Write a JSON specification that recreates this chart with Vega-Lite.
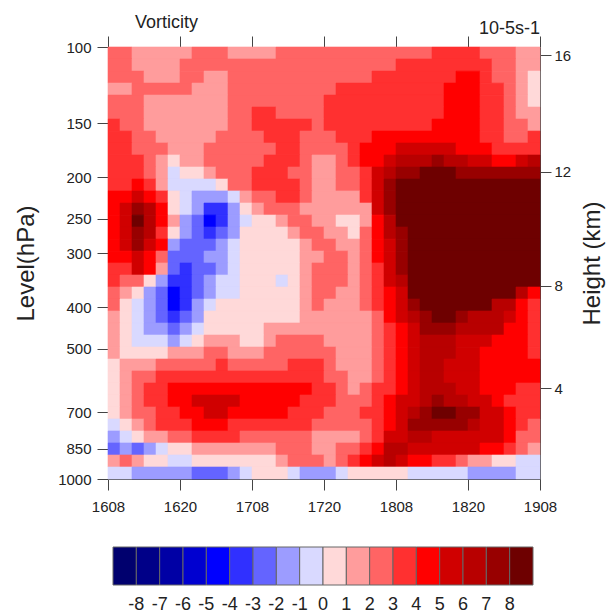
{"$schema":"https://vega.github.io/schema/vega-lite/v6.json","width":432,"height":432,"autosize":{"type":"none"},"padding":{"left":108,"top":47,"right":74,"bottom":134},"background":"white","config":{"view":{"stroke":"#444","strokeWidth":1},"font":"Liberation Sans"},"resolve":{"axis":{"x":"independent","y":"independent"}},"layer":[{"data":{"values":[
{"t0":0,"t1":4,"p0":100,"p1":106.6,"v":2.5},{"t0":4,"t1":14,"p0":100,"p1":106.6,"v":1.5},{"t0":14,"t1":20,"p0":100,"p1":106.6,"v":2.5},{"t0":20,"t1":28,"p0":100,"p1":106.6,"v":1.5},{"t0":28,"t1":54,"p0":100,"p1":106.6,"v":2.5},{"t0":54,"t1":62,"p0":100,"p1":106.6,"v":3.5},{"t0":62,"t1":68,"p0":100,"p1":106.6,"v":2.5},{"t0":68,"t1":72,"p0":100,"p1":106.6,"v":1.5},
{"t0":0,"t1":4,"p0":106.6,"p1":113.7,"v":2.5},{"t0":4,"t1":12,"p0":106.6,"p1":113.7,"v":1.5},{"t0":12,"t1":48,"p0":106.6,"p1":113.7,"v":2.5},{"t0":48,"t1":64,"p0":106.6,"p1":113.7,"v":3.5},{"t0":64,"t1":68,"p0":106.6,"p1":113.7,"v":2.5},{"t0":68,"t1":72,"p0":106.6,"p1":113.7,"v":1.5},
{"t0":0,"t1":6,"p0":113.7,"p1":121.2,"v":2.5},{"t0":6,"t1":12,"p0":113.7,"p1":121.2,"v":1.5},{"t0":12,"t1":16,"p0":113.7,"p1":121.2,"v":2.5},{"t0":16,"t1":20,"p0":113.7,"p1":121.2,"v":1.5},{"t0":20,"t1":44,"p0":113.7,"p1":121.2,"v":2.5},{"t0":44,"t1":58,"p0":113.7,"p1":121.2,"v":3.5},{"t0":58,"t1":62,"p0":113.7,"p1":121.2,"v":4.5},{"t0":62,"t1":64,"p0":113.7,"p1":121.2,"v":3.5},{"t0":64,"t1":68,"p0":113.7,"p1":121.2,"v":2.5},{"t0":68,"t1":70,"p0":113.7,"p1":121.2,"v":1.5},{"t0":70,"t1":72,"p0":113.7,"p1":121.2,"v":0.5},
{"t0":0,"t1":4,"p0":121.2,"p1":129.2,"v":1.5},{"t0":4,"t1":14,"p0":121.2,"p1":129.2,"v":2.5},{"t0":14,"t1":20,"p0":121.2,"p1":129.2,"v":1.5},{"t0":20,"t1":38,"p0":121.2,"p1":129.2,"v":2.5},{"t0":38,"t1":56,"p0":121.2,"p1":129.2,"v":3.5},{"t0":56,"t1":62,"p0":121.2,"p1":129.2,"v":4.5},{"t0":62,"t1":66,"p0":121.2,"p1":129.2,"v":3.5},{"t0":66,"t1":68,"p0":121.2,"p1":129.2,"v":2.5},{"t0":68,"t1":70,"p0":121.2,"p1":129.2,"v":1.5},{"t0":70,"t1":72,"p0":121.2,"p1":129.2,"v":0.5},
{"t0":0,"t1":6,"p0":129.2,"p1":137.7,"v":2.5},{"t0":6,"t1":20,"p0":129.2,"p1":137.7,"v":1.5},{"t0":20,"t1":36,"p0":129.2,"p1":137.7,"v":2.5},{"t0":36,"t1":56,"p0":129.2,"p1":137.7,"v":3.5},{"t0":56,"t1":62,"p0":129.2,"p1":137.7,"v":4.5},{"t0":62,"t1":66,"p0":129.2,"p1":137.7,"v":3.5},{"t0":66,"t1":68,"p0":129.2,"p1":137.7,"v":2.5},{"t0":68,"t1":70,"p0":129.2,"p1":137.7,"v":1.5},{"t0":70,"t1":72,"p0":129.2,"p1":137.7,"v":0.5},
{"t0":0,"t1":6,"p0":137.7,"p1":146.8,"v":2.5},{"t0":6,"t1":20,"p0":137.7,"p1":146.8,"v":1.5},{"t0":20,"t1":24,"p0":137.7,"p1":146.8,"v":2.5},{"t0":24,"t1":28,"p0":137.7,"p1":146.8,"v":3.5},{"t0":28,"t1":36,"p0":137.7,"p1":146.8,"v":2.5},{"t0":36,"t1":56,"p0":137.7,"p1":146.8,"v":3.5},{"t0":56,"t1":62,"p0":137.7,"p1":146.8,"v":4.5},{"t0":62,"t1":66,"p0":137.7,"p1":146.8,"v":3.5},{"t0":66,"t1":68,"p0":137.7,"p1":146.8,"v":2.5},{"t0":68,"t1":72,"p0":137.7,"p1":146.8,"v":1.5},
{"t0":0,"t1":2,"p0":146.8,"p1":156.5,"v":3.5},{"t0":2,"t1":6,"p0":146.8,"p1":156.5,"v":2.5},{"t0":6,"t1":20,"p0":146.8,"p1":156.5,"v":1.5},{"t0":20,"t1":24,"p0":146.8,"p1":156.5,"v":2.5},{"t0":24,"t1":34,"p0":146.8,"p1":156.5,"v":3.5},{"t0":34,"t1":36,"p0":146.8,"p1":156.5,"v":2.5},{"t0":36,"t1":54,"p0":146.8,"p1":156.5,"v":3.5},{"t0":54,"t1":62,"p0":146.8,"p1":156.5,"v":4.5},{"t0":62,"t1":66,"p0":146.8,"p1":156.5,"v":3.5},{"t0":66,"t1":70,"p0":146.8,"p1":156.5,"v":2.5},{"t0":70,"t1":72,"p0":146.8,"p1":156.5,"v":1.5},
{"t0":0,"t1":4,"p0":156.5,"p1":166.8,"v":3.5},{"t0":4,"t1":8,"p0":156.5,"p1":166.8,"v":2.5},{"t0":8,"t1":18,"p0":156.5,"p1":166.8,"v":1.5},{"t0":18,"t1":26,"p0":156.5,"p1":166.8,"v":2.5},{"t0":26,"t1":32,"p0":156.5,"p1":166.8,"v":3.5},{"t0":32,"t1":38,"p0":156.5,"p1":166.8,"v":2.5},{"t0":38,"t1":44,"p0":156.5,"p1":166.8,"v":3.5},{"t0":44,"t1":62,"p0":156.5,"p1":166.8,"v":4.5},{"t0":62,"t1":66,"p0":156.5,"p1":166.8,"v":3.5},{"t0":66,"t1":70,"p0":156.5,"p1":166.8,"v":2.5},{"t0":70,"t1":72,"p0":156.5,"p1":166.8,"v":3.5},
{"t0":0,"t1":4,"p0":166.8,"p1":177.8,"v":3.5},{"t0":4,"t1":10,"p0":166.8,"p1":177.8,"v":2.5},{"t0":10,"t1":16,"p0":166.8,"p1":177.8,"v":1.5},{"t0":16,"t1":28,"p0":166.8,"p1":177.8,"v":2.5},{"t0":28,"t1":32,"p0":166.8,"p1":177.8,"v":3.5},{"t0":32,"t1":40,"p0":166.8,"p1":177.8,"v":2.5},{"t0":40,"t1":42,"p0":166.8,"p1":177.8,"v":3.5},{"t0":42,"t1":48,"p0":166.8,"p1":177.8,"v":4.5},{"t0":48,"t1":58,"p0":166.8,"p1":177.8,"v":5.5},{"t0":58,"t1":64,"p0":166.8,"p1":177.8,"v":4.5},{"t0":64,"t1":72,"p0":166.8,"p1":177.8,"v":3.5},
{"t0":0,"t1":6,"p0":177.8,"p1":189.6,"v":3.5},{"t0":6,"t1":8,"p0":177.8,"p1":189.6,"v":2.5},{"t0":8,"t1":10,"p0":177.8,"p1":189.6,"v":1.5},{"t0":10,"t1":12,"p0":177.8,"p1":189.6,"v":0.5},{"t0":12,"t1":16,"p0":177.8,"p1":189.6,"v":1.5},{"t0":16,"t1":26,"p0":177.8,"p1":189.6,"v":2.5},{"t0":26,"t1":32,"p0":177.8,"p1":189.6,"v":3.5},{"t0":32,"t1":34,"p0":177.8,"p1":189.6,"v":2.5},{"t0":34,"t1":38,"p0":177.8,"p1":189.6,"v":1.5},{"t0":38,"t1":40,"p0":177.8,"p1":189.6,"v":2.5},{"t0":40,"t1":42,"p0":177.8,"p1":189.6,"v":3.5},{"t0":42,"t1":46,"p0":177.8,"p1":189.6,"v":4.5},{"t0":46,"t1":48,"p0":177.8,"p1":189.6,"v":5.5},{"t0":48,"t1":54,"p0":177.8,"p1":189.6,"v":6.5},{"t0":54,"t1":56,"p0":177.8,"p1":189.6,"v":7.5},{"t0":56,"t1":60,"p0":177.8,"p1":189.6,"v":6.5},{"t0":60,"t1":64,"p0":177.8,"p1":189.6,"v":5.5},{"t0":64,"t1":68,"p0":177.8,"p1":189.6,"v":4.5},{"t0":68,"t1":70,"p0":177.8,"p1":189.6,"v":5.5},{"t0":70,"t1":72,"p0":177.8,"p1":189.6,"v":6.5},
{"t0":0,"t1":6,"p0":189.6,"p1":202.1,"v":3.5},{"t0":6,"t1":8,"p0":189.6,"p1":202.1,"v":2.5},{"t0":8,"t1":10,"p0":189.6,"p1":202.1,"v":1.5},{"t0":10,"t1":12,"p0":189.6,"p1":202.1,"v":-0.5},{"t0":12,"t1":16,"p0":189.6,"p1":202.1,"v":0.5},{"t0":16,"t1":18,"p0":189.6,"p1":202.1,"v":1.5},{"t0":18,"t1":24,"p0":189.6,"p1":202.1,"v":2.5},{"t0":24,"t1":30,"p0":189.6,"p1":202.1,"v":3.5},{"t0":30,"t1":34,"p0":189.6,"p1":202.1,"v":2.5},{"t0":34,"t1":38,"p0":189.6,"p1":202.1,"v":1.5},{"t0":38,"t1":42,"p0":189.6,"p1":202.1,"v":2.5},{"t0":42,"t1":44,"p0":189.6,"p1":202.1,"v":3.5},{"t0":44,"t1":46,"p0":189.6,"p1":202.1,"v":5.5},{"t0":46,"t1":48,"p0":189.6,"p1":202.1,"v":6.5},{"t0":48,"t1":52,"p0":189.6,"p1":202.1,"v":7.5},{"t0":52,"t1":58,"p0":189.6,"p1":202.1,"v":8.5},{"t0":58,"t1":72,"p0":189.6,"p1":202.1,"v":7.5},
{"t0":0,"t1":4,"p0":202.1,"p1":215.4,"v":3.5},{"t0":4,"t1":6,"p0":202.1,"p1":215.4,"v":4.5},{"t0":6,"t1":8,"p0":202.1,"p1":215.4,"v":3.5},{"t0":8,"t1":10,"p0":202.1,"p1":215.4,"v":1.5},{"t0":10,"t1":18,"p0":202.1,"p1":215.4,"v":-0.5},{"t0":18,"t1":20,"p0":202.1,"p1":215.4,"v":0.5},{"t0":20,"t1":24,"p0":202.1,"p1":215.4,"v":2.5},{"t0":24,"t1":32,"p0":202.1,"p1":215.4,"v":3.5},{"t0":32,"t1":34,"p0":202.1,"p1":215.4,"v":2.5},{"t0":34,"t1":38,"p0":202.1,"p1":215.4,"v":1.5},{"t0":38,"t1":42,"p0":202.1,"p1":215.4,"v":2.5},{"t0":42,"t1":44,"p0":202.1,"p1":215.4,"v":3.5},{"t0":44,"t1":46,"p0":202.1,"p1":215.4,"v":5.5},{"t0":46,"t1":48,"p0":202.1,"p1":215.4,"v":7.5},{"t0":48,"t1":72,"p0":202.1,"p1":215.4,"v":8.5},
{"t0":0,"t1":4,"p0":215.4,"p1":229.7,"v":4.5},{"t0":4,"t1":6,"p0":215.4,"p1":229.7,"v":5.5},{"t0":6,"t1":8,"p0":215.4,"p1":229.7,"v":4.5},{"t0":8,"t1":10,"p0":215.4,"p1":229.7,"v":3.5},{"t0":10,"t1":12,"p0":215.4,"p1":229.7,"v":0.5},{"t0":12,"t1":14,"p0":215.4,"p1":229.7,"v":-0.5},{"t0":14,"t1":20,"p0":215.4,"p1":229.7,"v":-1.5},{"t0":20,"t1":22,"p0":215.4,"p1":229.7,"v":-0.5},{"t0":22,"t1":24,"p0":215.4,"p1":229.7,"v":1.5},{"t0":24,"t1":28,"p0":215.4,"p1":229.7,"v":2.5},{"t0":28,"t1":32,"p0":215.4,"p1":229.7,"v":3.5},{"t0":32,"t1":34,"p0":215.4,"p1":229.7,"v":2.5},{"t0":34,"t1":42,"p0":215.4,"p1":229.7,"v":1.5},{"t0":42,"t1":44,"p0":215.4,"p1":229.7,"v":3.5},{"t0":44,"t1":46,"p0":215.4,"p1":229.7,"v":5.5},{"t0":46,"t1":48,"p0":215.4,"p1":229.7,"v":7.5},{"t0":48,"t1":72,"p0":215.4,"p1":229.7,"v":8.5},
{"t0":0,"t1":2,"p0":229.7,"p1":244.9,"v":4.5},{"t0":2,"t1":4,"p0":229.7,"p1":244.9,"v":5.5},{"t0":4,"t1":6,"p0":229.7,"p1":244.9,"v":7.5},{"t0":6,"t1":8,"p0":229.7,"p1":244.9,"v":6.5},{"t0":8,"t1":10,"p0":229.7,"p1":244.9,"v":4.5},{"t0":10,"t1":12,"p0":229.7,"p1":244.9,"v":0.5},{"t0":12,"t1":14,"p0":229.7,"p1":244.9,"v":-0.5},{"t0":14,"t1":16,"p0":229.7,"p1":244.9,"v":-1.5},{"t0":16,"t1":20,"p0":229.7,"p1":244.9,"v":-3.5},{"t0":20,"t1":22,"p0":229.7,"p1":244.9,"v":-1.5},{"t0":22,"t1":24,"p0":229.7,"p1":244.9,"v":0.5},{"t0":24,"t1":26,"p0":229.7,"p1":244.9,"v":1.5},{"t0":26,"t1":32,"p0":229.7,"p1":244.9,"v":2.5},{"t0":32,"t1":44,"p0":229.7,"p1":244.9,"v":1.5},{"t0":44,"t1":46,"p0":229.7,"p1":244.9,"v":5.5},{"t0":46,"t1":48,"p0":229.7,"p1":244.9,"v":7.5},{"t0":48,"t1":72,"p0":229.7,"p1":244.9,"v":8.5},
{"t0":0,"t1":2,"p0":244.9,"p1":261,"v":4.5},{"t0":2,"t1":4,"p0":244.9,"p1":261,"v":5.5},{"t0":4,"t1":6,"p0":244.9,"p1":261,"v":8.5},{"t0":6,"t1":8,"p0":244.9,"p1":261,"v":6.5},{"t0":8,"t1":10,"p0":244.9,"p1":261,"v":4.5},{"t0":10,"t1":12,"p0":244.9,"p1":261,"v":1.5},{"t0":12,"t1":14,"p0":244.9,"p1":261,"v":-1.5},{"t0":14,"t1":16,"p0":244.9,"p1":261,"v":-2.5},{"t0":16,"t1":18,"p0":244.9,"p1":261,"v":-4.5},{"t0":18,"t1":20,"p0":244.9,"p1":261,"v":-3.5},{"t0":20,"t1":22,"p0":244.9,"p1":261,"v":-1.5},{"t0":22,"t1":24,"p0":244.9,"p1":261,"v":-0.5},{"t0":24,"t1":28,"p0":244.9,"p1":261,"v":0.5},{"t0":28,"t1":30,"p0":244.9,"p1":261,"v":1.5},{"t0":30,"t1":34,"p0":244.9,"p1":261,"v":2.5},{"t0":34,"t1":38,"p0":244.9,"p1":261,"v":1.5},{"t0":38,"t1":42,"p0":244.9,"p1":261,"v":0.5},{"t0":42,"t1":44,"p0":244.9,"p1":261,"v":1.5},{"t0":44,"t1":46,"p0":244.9,"p1":261,"v":4.5},{"t0":46,"t1":48,"p0":244.9,"p1":261,"v":6.5},{"t0":48,"t1":72,"p0":244.9,"p1":261,"v":8.5},
{"t0":0,"t1":2,"p0":261,"p1":278.3,"v":4.5},{"t0":2,"t1":4,"p0":261,"p1":278.3,"v":5.5},{"t0":4,"t1":6,"p0":261,"p1":278.3,"v":7.5},{"t0":6,"t1":8,"p0":261,"p1":278.3,"v":6.5},{"t0":8,"t1":10,"p0":261,"p1":278.3,"v":3.5},{"t0":10,"t1":12,"p0":261,"p1":278.3,"v":0.5},{"t0":12,"t1":14,"p0":261,"p1":278.3,"v":-1.5},{"t0":14,"t1":16,"p0":261,"p1":278.3,"v":-2.5},{"t0":16,"t1":18,"p0":261,"p1":278.3,"v":-3.5},{"t0":18,"t1":20,"p0":261,"p1":278.3,"v":-2.5},{"t0":20,"t1":22,"p0":261,"p1":278.3,"v":-1.5},{"t0":22,"t1":30,"p0":261,"p1":278.3,"v":0.5},{"t0":30,"t1":32,"p0":261,"p1":278.3,"v":1.5},{"t0":32,"t1":36,"p0":261,"p1":278.3,"v":2.5},{"t0":36,"t1":40,"p0":261,"p1":278.3,"v":1.5},{"t0":40,"t1":42,"p0":261,"p1":278.3,"v":0.5},{"t0":42,"t1":44,"p0":261,"p1":278.3,"v":2.5},{"t0":44,"t1":46,"p0":261,"p1":278.3,"v":4.5},{"t0":46,"t1":48,"p0":261,"p1":278.3,"v":6.5},{"t0":48,"t1":50,"p0":261,"p1":278.3,"v":7.5},{"t0":50,"t1":72,"p0":261,"p1":278.3,"v":8.5},
{"t0":0,"t1":2,"p0":278.3,"p1":296.7,"v":4.5},{"t0":2,"t1":4,"p0":278.3,"p1":296.7,"v":5.5},{"t0":4,"t1":6,"p0":278.3,"p1":296.7,"v":7.5},{"t0":6,"t1":8,"p0":278.3,"p1":296.7,"v":5.5},{"t0":8,"t1":10,"p0":278.3,"p1":296.7,"v":4.5},{"t0":10,"t1":12,"p0":278.3,"p1":296.7,"v":-1.5},{"t0":12,"t1":18,"p0":278.3,"p1":296.7,"v":-2.5},{"t0":18,"t1":20,"p0":278.3,"p1":296.7,"v":-1.5},{"t0":20,"t1":22,"p0":278.3,"p1":296.7,"v":-0.5},{"t0":22,"t1":32,"p0":278.3,"p1":296.7,"v":0.5},{"t0":32,"t1":34,"p0":278.3,"p1":296.7,"v":1.5},{"t0":34,"t1":38,"p0":278.3,"p1":296.7,"v":2.5},{"t0":38,"t1":42,"p0":278.3,"p1":296.7,"v":1.5},{"t0":42,"t1":44,"p0":278.3,"p1":296.7,"v":2.5},{"t0":44,"t1":46,"p0":278.3,"p1":296.7,"v":4.5},{"t0":46,"t1":48,"p0":278.3,"p1":296.7,"v":5.5},{"t0":48,"t1":50,"p0":278.3,"p1":296.7,"v":7.5},{"t0":50,"t1":72,"p0":278.3,"p1":296.7,"v":8.5},
{"t0":0,"t1":4,"p0":296.7,"p1":316.2,"v":4.5},{"t0":4,"t1":6,"p0":296.7,"p1":316.2,"v":5.5},{"t0":6,"t1":8,"p0":296.7,"p1":316.2,"v":4.5},{"t0":8,"t1":10,"p0":296.7,"p1":316.2,"v":2.5},{"t0":10,"t1":16,"p0":296.7,"p1":316.2,"v":-2.5},{"t0":16,"t1":20,"p0":296.7,"p1":316.2,"v":-1.5},{"t0":20,"t1":22,"p0":296.7,"p1":316.2,"v":-0.5},{"t0":22,"t1":32,"p0":296.7,"p1":316.2,"v":0.5},{"t0":32,"t1":36,"p0":296.7,"p1":316.2,"v":1.5},{"t0":36,"t1":40,"p0":296.7,"p1":316.2,"v":2.5},{"t0":40,"t1":42,"p0":296.7,"p1":316.2,"v":1.5},{"t0":42,"t1":44,"p0":296.7,"p1":316.2,"v":2.5},{"t0":44,"t1":46,"p0":296.7,"p1":316.2,"v":4.5},{"t0":46,"t1":48,"p0":296.7,"p1":316.2,"v":5.5},{"t0":48,"t1":50,"p0":296.7,"p1":316.2,"v":7.5},{"t0":50,"t1":72,"p0":296.7,"p1":316.2,"v":8.5},
{"t0":0,"t1":4,"p0":316.2,"p1":337.1,"v":3.5},{"t0":4,"t1":6,"p0":316.2,"p1":337.1,"v":5.5},{"t0":6,"t1":8,"p0":316.2,"p1":337.1,"v":4.5},{"t0":8,"t1":10,"p0":316.2,"p1":337.1,"v":1.5},{"t0":10,"t1":12,"p0":316.2,"p1":337.1,"v":-2.5},{"t0":12,"t1":14,"p0":316.2,"p1":337.1,"v":-3.5},{"t0":14,"t1":18,"p0":316.2,"p1":337.1,"v":-2.5},{"t0":18,"t1":20,"p0":316.2,"p1":337.1,"v":-1.5},{"t0":20,"t1":22,"p0":316.2,"p1":337.1,"v":-0.5},{"t0":22,"t1":32,"p0":316.2,"p1":337.1,"v":0.5},{"t0":32,"t1":34,"p0":316.2,"p1":337.1,"v":1.5},{"t0":34,"t1":40,"p0":316.2,"p1":337.1,"v":2.5},{"t0":40,"t1":42,"p0":316.2,"p1":337.1,"v":1.5},{"t0":42,"t1":44,"p0":316.2,"p1":337.1,"v":2.5},{"t0":44,"t1":46,"p0":316.2,"p1":337.1,"v":3.5},{"t0":46,"t1":48,"p0":316.2,"p1":337.1,"v":5.5},{"t0":48,"t1":50,"p0":316.2,"p1":337.1,"v":7.5},{"t0":50,"t1":72,"p0":316.2,"p1":337.1,"v":8.5},
{"t0":0,"t1":2,"p0":337.1,"p1":359.4,"v":3.5},{"t0":2,"t1":6,"p0":337.1,"p1":359.4,"v":2.5},{"t0":6,"t1":8,"p0":337.1,"p1":359.4,"v":0.5},{"t0":8,"t1":10,"p0":337.1,"p1":359.4,"v":-1.5},{"t0":10,"t1":14,"p0":337.1,"p1":359.4,"v":-3.5},{"t0":14,"t1":16,"p0":337.1,"p1":359.4,"v":-2.5},{"t0":16,"t1":18,"p0":337.1,"p1":359.4,"v":-1.5},{"t0":18,"t1":22,"p0":337.1,"p1":359.4,"v":-0.5},{"t0":22,"t1":28,"p0":337.1,"p1":359.4,"v":0.5},{"t0":28,"t1":30,"p0":337.1,"p1":359.4,"v":-0.5},{"t0":30,"t1":32,"p0":337.1,"p1":359.4,"v":0.5},{"t0":32,"t1":34,"p0":337.1,"p1":359.4,"v":1.5},{"t0":34,"t1":40,"p0":337.1,"p1":359.4,"v":2.5},{"t0":40,"t1":42,"p0":337.1,"p1":359.4,"v":1.5},{"t0":42,"t1":44,"p0":337.1,"p1":359.4,"v":2.5},{"t0":44,"t1":46,"p0":337.1,"p1":359.4,"v":3.5},{"t0":46,"t1":48,"p0":337.1,"p1":359.4,"v":5.5},{"t0":48,"t1":50,"p0":337.1,"p1":359.4,"v":6.5},{"t0":50,"t1":72,"p0":337.1,"p1":359.4,"v":8.5},
{"t0":0,"t1":2,"p0":359.4,"p1":383.1,"v":2.5},{"t0":2,"t1":4,"p0":359.4,"p1":383.1,"v":1.5},{"t0":4,"t1":6,"p0":359.4,"p1":383.1,"v":0.5},{"t0":6,"t1":8,"p0":359.4,"p1":383.1,"v":-1.5},{"t0":8,"t1":10,"p0":359.4,"p1":383.1,"v":-2.5},{"t0":10,"t1":12,"p0":359.4,"p1":383.1,"v":-4.5},{"t0":12,"t1":14,"p0":359.4,"p1":383.1,"v":-3.5},{"t0":14,"t1":16,"p0":359.4,"p1":383.1,"v":-2.5},{"t0":16,"t1":18,"p0":359.4,"p1":383.1,"v":-1.5},{"t0":18,"t1":22,"p0":359.4,"p1":383.1,"v":-0.5},{"t0":22,"t1":32,"p0":359.4,"p1":383.1,"v":0.5},{"t0":32,"t1":34,"p0":359.4,"p1":383.1,"v":1.5},{"t0":34,"t1":38,"p0":359.4,"p1":383.1,"v":2.5},{"t0":38,"t1":42,"p0":359.4,"p1":383.1,"v":1.5},{"t0":42,"t1":44,"p0":359.4,"p1":383.1,"v":2.5},{"t0":44,"t1":46,"p0":359.4,"p1":383.1,"v":3.5},{"t0":46,"t1":48,"p0":359.4,"p1":383.1,"v":4.5},{"t0":48,"t1":50,"p0":359.4,"p1":383.1,"v":5.5},{"t0":50,"t1":68,"p0":359.4,"p1":383.1,"v":8.5},{"t0":68,"t1":70,"p0":359.4,"p1":383.1,"v":6.5},{"t0":70,"t1":72,"p0":359.4,"p1":383.1,"v":4.5},
{"t0":0,"t1":2,"p0":383.1,"p1":408.4,"v":2.5},{"t0":2,"t1":4,"p0":383.1,"p1":408.4,"v":0.5},{"t0":4,"t1":6,"p0":383.1,"p1":408.4,"v":-0.5},{"t0":6,"t1":8,"p0":383.1,"p1":408.4,"v":-1.5},{"t0":8,"t1":10,"p0":383.1,"p1":408.4,"v":-2.5},{"t0":10,"t1":12,"p0":383.1,"p1":408.4,"v":-4.5},{"t0":12,"t1":14,"p0":383.1,"p1":408.4,"v":-3.5},{"t0":14,"t1":16,"p0":383.1,"p1":408.4,"v":-1.5},{"t0":16,"t1":18,"p0":383.1,"p1":408.4,"v":-0.5},{"t0":18,"t1":32,"p0":383.1,"p1":408.4,"v":0.5},{"t0":32,"t1":34,"p0":383.1,"p1":408.4,"v":1.5},{"t0":34,"t1":36,"p0":383.1,"p1":408.4,"v":2.5},{"t0":36,"t1":42,"p0":383.1,"p1":408.4,"v":1.5},{"t0":42,"t1":44,"p0":383.1,"p1":408.4,"v":2.5},{"t0":44,"t1":46,"p0":383.1,"p1":408.4,"v":3.5},{"t0":46,"t1":48,"p0":383.1,"p1":408.4,"v":4.5},{"t0":48,"t1":50,"p0":383.1,"p1":408.4,"v":5.5},{"t0":50,"t1":52,"p0":383.1,"p1":408.4,"v":7.5},{"t0":52,"t1":64,"p0":383.1,"p1":408.4,"v":8.5},{"t0":64,"t1":68,"p0":383.1,"p1":408.4,"v":6.5},{"t0":68,"t1":70,"p0":383.1,"p1":408.4,"v":4.5},{"t0":70,"t1":72,"p0":383.1,"p1":408.4,"v":3.5},
{"t0":0,"t1":2,"p0":408.4,"p1":435.4,"v":1.5},{"t0":2,"t1":4,"p0":408.4,"p1":435.4,"v":0.5},{"t0":4,"t1":6,"p0":408.4,"p1":435.4,"v":-0.5},{"t0":6,"t1":8,"p0":408.4,"p1":435.4,"v":-1.5},{"t0":8,"t1":10,"p0":408.4,"p1":435.4,"v":-2.5},{"t0":10,"t1":12,"p0":408.4,"p1":435.4,"v":-3.5},{"t0":12,"t1":14,"p0":408.4,"p1":435.4,"v":-2.5},{"t0":14,"t1":16,"p0":408.4,"p1":435.4,"v":-1.5},{"t0":16,"t1":32,"p0":408.4,"p1":435.4,"v":0.5},{"t0":32,"t1":44,"p0":408.4,"p1":435.4,"v":1.5},{"t0":44,"t1":46,"p0":408.4,"p1":435.4,"v":2.5},{"t0":46,"t1":48,"p0":408.4,"p1":435.4,"v":4.5},{"t0":48,"t1":50,"p0":408.4,"p1":435.4,"v":5.5},{"t0":50,"t1":52,"p0":408.4,"p1":435.4,"v":6.5},{"t0":52,"t1":54,"p0":408.4,"p1":435.4,"v":7.5},{"t0":54,"t1":58,"p0":408.4,"p1":435.4,"v":8.5},{"t0":58,"t1":60,"p0":408.4,"p1":435.4,"v":7.5},{"t0":60,"t1":66,"p0":408.4,"p1":435.4,"v":6.5},{"t0":66,"t1":68,"p0":408.4,"p1":435.4,"v":5.5},{"t0":68,"t1":70,"p0":408.4,"p1":435.4,"v":4.5},{"t0":70,"t1":72,"p0":408.4,"p1":435.4,"v":3.5},
{"t0":0,"t1":2,"p0":435.4,"p1":464.2,"v":1.5},{"t0":2,"t1":4,"p0":435.4,"p1":464.2,"v":0.5},{"t0":4,"t1":6,"p0":435.4,"p1":464.2,"v":-0.5},{"t0":6,"t1":10,"p0":435.4,"p1":464.2,"v":-1.5},{"t0":10,"t1":12,"p0":435.4,"p1":464.2,"v":-2.5},{"t0":12,"t1":14,"p0":435.4,"p1":464.2,"v":-1.5},{"t0":14,"t1":16,"p0":435.4,"p1":464.2,"v":-0.5},{"t0":16,"t1":26,"p0":435.4,"p1":464.2,"v":0.5},{"t0":26,"t1":44,"p0":435.4,"p1":464.2,"v":1.5},{"t0":44,"t1":46,"p0":435.4,"p1":464.2,"v":2.5},{"t0":46,"t1":48,"p0":435.4,"p1":464.2,"v":3.5},{"t0":48,"t1":50,"p0":435.4,"p1":464.2,"v":4.5},{"t0":50,"t1":52,"p0":435.4,"p1":464.2,"v":5.5},{"t0":52,"t1":58,"p0":435.4,"p1":464.2,"v":7.5},{"t0":58,"t1":66,"p0":435.4,"p1":464.2,"v":6.5},{"t0":66,"t1":70,"p0":435.4,"p1":464.2,"v":4.5},{"t0":70,"t1":72,"p0":435.4,"p1":464.2,"v":3.5},
{"t0":0,"t1":2,"p0":464.2,"p1":494.9,"v":1.5},{"t0":2,"t1":4,"p0":464.2,"p1":494.9,"v":0.5},{"t0":4,"t1":10,"p0":464.2,"p1":494.9,"v":-0.5},{"t0":10,"t1":12,"p0":464.2,"p1":494.9,"v":-1.5},{"t0":12,"t1":14,"p0":464.2,"p1":494.9,"v":-0.5},{"t0":14,"t1":16,"p0":464.2,"p1":494.9,"v":0.5},{"t0":16,"t1":22,"p0":464.2,"p1":494.9,"v":1.5},{"t0":22,"t1":26,"p0":464.2,"p1":494.9,"v":0.5},{"t0":26,"t1":28,"p0":464.2,"p1":494.9,"v":1.5},{"t0":28,"t1":36,"p0":464.2,"p1":494.9,"v":2.5},{"t0":36,"t1":44,"p0":464.2,"p1":494.9,"v":1.5},{"t0":44,"t1":46,"p0":464.2,"p1":494.9,"v":2.5},{"t0":46,"t1":48,"p0":464.2,"p1":494.9,"v":3.5},{"t0":48,"t1":50,"p0":464.2,"p1":494.9,"v":4.5},{"t0":50,"t1":52,"p0":464.2,"p1":494.9,"v":5.5},{"t0":52,"t1":58,"p0":464.2,"p1":494.9,"v":6.5},{"t0":58,"t1":64,"p0":464.2,"p1":494.9,"v":5.5},{"t0":64,"t1":70,"p0":464.2,"p1":494.9,"v":4.5},{"t0":70,"t1":72,"p0":464.2,"p1":494.9,"v":3.5},
{"t0":0,"t1":2,"p0":494.9,"p1":527.5,"v":1.5},{"t0":2,"t1":10,"p0":494.9,"p1":527.5,"v":0.5},{"t0":10,"t1":16,"p0":494.9,"p1":527.5,"v":1.5},{"t0":16,"t1":20,"p0":494.9,"p1":527.5,"v":2.5},{"t0":20,"t1":26,"p0":494.9,"p1":527.5,"v":1.5},{"t0":26,"t1":38,"p0":494.9,"p1":527.5,"v":2.5},{"t0":38,"t1":44,"p0":494.9,"p1":527.5,"v":1.5},{"t0":44,"t1":46,"p0":494.9,"p1":527.5,"v":2.5},{"t0":46,"t1":48,"p0":494.9,"p1":527.5,"v":3.5},{"t0":48,"t1":50,"p0":494.9,"p1":527.5,"v":4.5},{"t0":50,"t1":52,"p0":494.9,"p1":527.5,"v":5.5},{"t0":52,"t1":58,"p0":494.9,"p1":527.5,"v":6.5},{"t0":58,"t1":62,"p0":494.9,"p1":527.5,"v":5.5},{"t0":62,"t1":70,"p0":494.9,"p1":527.5,"v":4.5},{"t0":70,"t1":72,"p0":494.9,"p1":527.5,"v":3.5},
{"t0":0,"t1":2,"p0":527.5,"p1":562.3,"v":0.5},{"t0":2,"t1":8,"p0":527.5,"p1":562.3,"v":1.5},{"t0":8,"t1":18,"p0":527.5,"p1":562.3,"v":2.5},{"t0":18,"t1":20,"p0":527.5,"p1":562.3,"v":3.5},{"t0":20,"t1":30,"p0":527.5,"p1":562.3,"v":2.5},{"t0":30,"t1":36,"p0":527.5,"p1":562.3,"v":3.5},{"t0":36,"t1":38,"p0":527.5,"p1":562.3,"v":2.5},{"t0":38,"t1":44,"p0":527.5,"p1":562.3,"v":1.5},{"t0":44,"t1":46,"p0":527.5,"p1":562.3,"v":2.5},{"t0":46,"t1":48,"p0":527.5,"p1":562.3,"v":3.5},{"t0":48,"t1":50,"p0":527.5,"p1":562.3,"v":4.5},{"t0":50,"t1":52,"p0":527.5,"p1":562.3,"v":5.5},{"t0":52,"t1":56,"p0":527.5,"p1":562.3,"v":6.5},{"t0":56,"t1":62,"p0":527.5,"p1":562.3,"v":5.5},{"t0":62,"t1":72,"p0":527.5,"p1":562.3,"v":4.5},
{"t0":0,"t1":2,"p0":562.3,"p1":599.5,"v":0.5},{"t0":2,"t1":4,"p0":562.3,"p1":599.5,"v":1.5},{"t0":4,"t1":8,"p0":562.3,"p1":599.5,"v":2.5},{"t0":8,"t1":36,"p0":562.3,"p1":599.5,"v":3.5},{"t0":36,"t1":40,"p0":562.3,"p1":599.5,"v":2.5},{"t0":40,"t1":44,"p0":562.3,"p1":599.5,"v":1.5},{"t0":44,"t1":46,"p0":562.3,"p1":599.5,"v":2.5},{"t0":46,"t1":48,"p0":562.3,"p1":599.5,"v":3.5},{"t0":48,"t1":50,"p0":562.3,"p1":599.5,"v":4.5},{"t0":50,"t1":52,"p0":562.3,"p1":599.5,"v":5.5},{"t0":52,"t1":56,"p0":562.3,"p1":599.5,"v":6.5},{"t0":56,"t1":62,"p0":562.3,"p1":599.5,"v":5.5},{"t0":62,"t1":72,"p0":562.3,"p1":599.5,"v":4.5},
{"t0":0,"t1":2,"p0":599.5,"p1":639.1,"v":0.5},{"t0":2,"t1":4,"p0":599.5,"p1":639.1,"v":1.5},{"t0":4,"t1":6,"p0":599.5,"p1":639.1,"v":2.5},{"t0":6,"t1":10,"p0":599.5,"p1":639.1,"v":3.5},{"t0":10,"t1":34,"p0":599.5,"p1":639.1,"v":4.5},{"t0":34,"t1":38,"p0":599.5,"p1":639.1,"v":3.5},{"t0":38,"t1":40,"p0":599.5,"p1":639.1,"v":2.5},{"t0":40,"t1":42,"p0":599.5,"p1":639.1,"v":1.5},{"t0":42,"t1":44,"p0":599.5,"p1":639.1,"v":2.5},{"t0":44,"t1":48,"p0":599.5,"p1":639.1,"v":3.5},{"t0":48,"t1":50,"p0":599.5,"p1":639.1,"v":4.5},{"t0":50,"t1":52,"p0":599.5,"p1":639.1,"v":5.5},{"t0":52,"t1":58,"p0":599.5,"p1":639.1,"v":6.5},{"t0":58,"t1":62,"p0":599.5,"p1":639.1,"v":5.5},{"t0":62,"t1":68,"p0":599.5,"p1":639.1,"v":4.5},{"t0":68,"t1":72,"p0":599.5,"p1":639.1,"v":3.5},
{"t0":0,"t1":2,"p0":639.1,"p1":681.3,"v":0.5},{"t0":2,"t1":4,"p0":639.1,"p1":681.3,"v":1.5},{"t0":4,"t1":6,"p0":639.1,"p1":681.3,"v":2.5},{"t0":6,"t1":10,"p0":639.1,"p1":681.3,"v":3.5},{"t0":10,"t1":14,"p0":639.1,"p1":681.3,"v":4.5},{"t0":14,"t1":22,"p0":639.1,"p1":681.3,"v":5.5},{"t0":22,"t1":32,"p0":639.1,"p1":681.3,"v":4.5},{"t0":32,"t1":38,"p0":639.1,"p1":681.3,"v":3.5},{"t0":38,"t1":44,"p0":639.1,"p1":681.3,"v":2.5},{"t0":44,"t1":46,"p0":639.1,"p1":681.3,"v":3.5},{"t0":46,"t1":48,"p0":639.1,"p1":681.3,"v":4.5},{"t0":48,"t1":52,"p0":639.1,"p1":681.3,"v":5.5},{"t0":52,"t1":54,"p0":639.1,"p1":681.3,"v":6.5},{"t0":54,"t1":56,"p0":639.1,"p1":681.3,"v":7.5},{"t0":56,"t1":60,"p0":639.1,"p1":681.3,"v":6.5},{"t0":60,"t1":64,"p0":639.1,"p1":681.3,"v":5.5},{"t0":64,"t1":66,"p0":639.1,"p1":681.3,"v":4.5},{"t0":66,"t1":72,"p0":639.1,"p1":681.3,"v":3.5},
{"t0":0,"t1":2,"p0":681.3,"p1":726.3,"v":0.5},{"t0":2,"t1":4,"p0":681.3,"p1":726.3,"v":1.5},{"t0":4,"t1":8,"p0":681.3,"p1":726.3,"v":2.5},{"t0":8,"t1":12,"p0":681.3,"p1":726.3,"v":3.5},{"t0":12,"t1":16,"p0":681.3,"p1":726.3,"v":4.5},{"t0":16,"t1":20,"p0":681.3,"p1":726.3,"v":5.5},{"t0":20,"t1":30,"p0":681.3,"p1":726.3,"v":4.5},{"t0":30,"t1":36,"p0":681.3,"p1":726.3,"v":3.5},{"t0":36,"t1":42,"p0":681.3,"p1":726.3,"v":2.5},{"t0":42,"t1":46,"p0":681.3,"p1":726.3,"v":3.5},{"t0":46,"t1":48,"p0":681.3,"p1":726.3,"v":4.5},{"t0":48,"t1":50,"p0":681.3,"p1":726.3,"v":5.5},{"t0":50,"t1":52,"p0":681.3,"p1":726.3,"v":6.5},{"t0":52,"t1":54,"p0":681.3,"p1":726.3,"v":7.5},{"t0":54,"t1":58,"p0":681.3,"p1":726.3,"v":8.5},{"t0":58,"t1":62,"p0":681.3,"p1":726.3,"v":7.5},{"t0":62,"t1":66,"p0":681.3,"p1":726.3,"v":5.5},{"t0":66,"t1":68,"p0":681.3,"p1":726.3,"v":4.5},{"t0":68,"t1":72,"p0":681.3,"p1":726.3,"v":3.5},
{"t0":0,"t1":2,"p0":726.3,"p1":774.3,"v":-0.5},{"t0":2,"t1":4,"p0":726.3,"p1":774.3,"v":0.5},{"t0":4,"t1":6,"p0":726.3,"p1":774.3,"v":1.5},{"t0":6,"t1":8,"p0":726.3,"p1":774.3,"v":2.5},{"t0":8,"t1":14,"p0":726.3,"p1":774.3,"v":3.5},{"t0":14,"t1":20,"p0":726.3,"p1":774.3,"v":4.5},{"t0":20,"t1":34,"p0":726.3,"p1":774.3,"v":3.5},{"t0":34,"t1":44,"p0":726.3,"p1":774.3,"v":2.5},{"t0":44,"t1":46,"p0":726.3,"p1":774.3,"v":3.5},{"t0":46,"t1":48,"p0":726.3,"p1":774.3,"v":4.5},{"t0":48,"t1":50,"p0":726.3,"p1":774.3,"v":5.5},{"t0":50,"t1":60,"p0":726.3,"p1":774.3,"v":7.5},{"t0":60,"t1":62,"p0":726.3,"p1":774.3,"v":6.5},{"t0":62,"t1":66,"p0":726.3,"p1":774.3,"v":5.5},{"t0":66,"t1":68,"p0":726.3,"p1":774.3,"v":4.5},{"t0":68,"t1":70,"p0":726.3,"p1":774.3,"v":3.5},{"t0":70,"t1":72,"p0":726.3,"p1":774.3,"v":2.5},
{"t0":0,"t1":2,"p0":774.3,"p1":825.4,"v":-1.5},{"t0":2,"t1":4,"p0":774.3,"p1":825.4,"v":-0.5},{"t0":4,"t1":6,"p0":774.3,"p1":825.4,"v":0.5},{"t0":6,"t1":10,"p0":774.3,"p1":825.4,"v":1.5},{"t0":10,"t1":14,"p0":774.3,"p1":825.4,"v":2.5},{"t0":14,"t1":22,"p0":774.3,"p1":825.4,"v":3.5},{"t0":22,"t1":34,"p0":774.3,"p1":825.4,"v":2.5},{"t0":34,"t1":42,"p0":774.3,"p1":825.4,"v":1.5},{"t0":42,"t1":44,"p0":774.3,"p1":825.4,"v":2.5},{"t0":44,"t1":46,"p0":774.3,"p1":825.4,"v":3.5},{"t0":46,"t1":50,"p0":774.3,"p1":825.4,"v":5.5},{"t0":50,"t1":54,"p0":774.3,"p1":825.4,"v":6.5},{"t0":54,"t1":66,"p0":774.3,"p1":825.4,"v":5.5},{"t0":66,"t1":68,"p0":774.3,"p1":825.4,"v":4.5},{"t0":68,"t1":72,"p0":774.3,"p1":825.4,"v":2.5},
{"t0":0,"t1":2,"p0":825.4,"p1":879.9,"v":-2.5},{"t0":2,"t1":4,"p0":825.4,"p1":879.9,"v":-1.5},{"t0":4,"t1":6,"p0":825.4,"p1":879.9,"v":-2.5},{"t0":6,"t1":8,"p0":825.4,"p1":879.9,"v":-1.5},{"t0":8,"t1":10,"p0":825.4,"p1":879.9,"v":-0.5},{"t0":10,"t1":14,"p0":825.4,"p1":879.9,"v":0.5},{"t0":14,"t1":28,"p0":825.4,"p1":879.9,"v":1.5},{"t0":28,"t1":34,"p0":825.4,"p1":879.9,"v":2.5},{"t0":34,"t1":38,"p0":825.4,"p1":879.9,"v":1.5},{"t0":38,"t1":42,"p0":825.4,"p1":879.9,"v":2.5},{"t0":42,"t1":44,"p0":825.4,"p1":879.9,"v":3.5},{"t0":44,"t1":46,"p0":825.4,"p1":879.9,"v":4.5},{"t0":46,"t1":50,"p0":825.4,"p1":879.9,"v":6.5},{"t0":50,"t1":62,"p0":825.4,"p1":879.9,"v":5.5},{"t0":62,"t1":66,"p0":825.4,"p1":879.9,"v":4.5},{"t0":66,"t1":68,"p0":825.4,"p1":879.9,"v":3.5},{"t0":68,"t1":70,"p0":825.4,"p1":879.9,"v":2.5},{"t0":70,"t1":72,"p0":825.4,"p1":879.9,"v":1.5},
{"t0":0,"t1":2,"p0":879.9,"p1":938.1,"v":1.5},{"t0":2,"t1":4,"p0":879.9,"p1":938.1,"v":2.5},{"t0":4,"t1":6,"p0":879.9,"p1":938.1,"v":1.5},{"t0":6,"t1":10,"p0":879.9,"p1":938.1,"v":0.5},{"t0":10,"t1":14,"p0":879.9,"p1":938.1,"v":-0.5},{"t0":14,"t1":28,"p0":879.9,"p1":938.1,"v":0.5},{"t0":28,"t1":30,"p0":879.9,"p1":938.1,"v":1.5},{"t0":30,"t1":36,"p0":879.9,"p1":938.1,"v":2.5},{"t0":36,"t1":38,"p0":879.9,"p1":938.1,"v":1.5},{"t0":38,"t1":40,"p0":879.9,"p1":938.1,"v":2.5},{"t0":40,"t1":42,"p0":879.9,"p1":938.1,"v":3.5},{"t0":42,"t1":44,"p0":879.9,"p1":938.1,"v":4.5},{"t0":44,"t1":46,"p0":879.9,"p1":938.1,"v":5.5},{"t0":46,"t1":48,"p0":879.9,"p1":938.1,"v":6.5},{"t0":48,"t1":50,"p0":879.9,"p1":938.1,"v":5.5},{"t0":50,"t1":54,"p0":879.9,"p1":938.1,"v":4.5},{"t0":54,"t1":58,"p0":879.9,"p1":938.1,"v":3.5},{"t0":58,"t1":60,"p0":879.9,"p1":938.1,"v":2.5},{"t0":60,"t1":64,"p0":879.9,"p1":938.1,"v":1.5},{"t0":64,"t1":68,"p0":879.9,"p1":938.1,"v":0.5},{"t0":68,"t1":72,"p0":879.9,"p1":938.1,"v":-0.5},
{"t0":0,"t1":4,"p0":938.1,"p1":1000,"v":-0.5},{"t0":4,"t1":14,"p0":938.1,"p1":1000,"v":-1.5},{"t0":14,"t1":20,"p0":938.1,"p1":1000,"v":-2.5},{"t0":20,"t1":22,"p0":938.1,"p1":1000,"v":-1.5},{"t0":22,"t1":24,"p0":938.1,"p1":1000,"v":-0.5},{"t0":24,"t1":30,"p0":938.1,"p1":1000,"v":0.5},{"t0":30,"t1":32,"p0":938.1,"p1":1000,"v":-0.5},{"t0":32,"t1":38,"p0":938.1,"p1":1000,"v":-1.5},{"t0":38,"t1":40,"p0":938.1,"p1":1000,"v":-0.5},{"t0":40,"t1":50,"p0":938.1,"p1":1000,"v":0.5},{"t0":50,"t1":60,"p0":938.1,"p1":1000,"v":-0.5},{"t0":60,"t1":68,"p0":938.1,"p1":1000,"v":-1.5},{"t0":68,"t1":72,"p0":938.1,"p1":1000,"v":-0.5}
]},"mark":{"type":"rect","strokeWidth":0.6},"encoding":{
"x":{"field":"t0","type":"quantitative","scale":{"domain":[0,72],"nice":false,"zero":false},"axis":{"orient":"bottom","title":null,"values":[0,12,24,36,48,60,72],"labelExpr":"['1608','1620','1708','1720','1808','1820','1908'][datum.value/12]","labelFlush":false,"tickSize":11,"tickColor":"#444","domain":false,"grid":false,"labelFontSize":15,"labelColor":"#222","labelFont":"Liberation Sans","labelPadding":9}},
"x2":{"field":"t1"},
"y":{"field":"p0","type":"quantitative","scale":{"type":"log","domain":[1000,100],"nice":false},"axis":{"orient":"left","title":"Level(hPa)","values":[100,150,200,250,300,400,500,700,850,1000],"labelExpr":"datum.value","tickSize":11,"tickColor":"#444","domain":false,"grid":false,"labelFontSize":15,"labelColor":"#222","labelFont":"Liberation Sans","labelPadding":6,"titleFontSize":24,"titleFontWeight":"normal","titleFont":"Liberation Sans","titleColor":"#222","titlePadding":19}},
"y2":{"field":"p1"},
"color":{"field":"v","type":"quantitative","scale":{"type":"threshold","domain":[-8,-7,-6,-5,-4,-3,-2,-1,0,1,2,3,4,5,6,7,8],"range":["#00006e","#000088","#0000a5","#0000d0","#0000ff","#3030ff","#6464ff","#9c9cff","#d9d9ff","#ffd9d9","#ff9c9c","#ff6464","#ff3030","#ff0000","#d00000","#b80000","#980000","#6e0000"]},"legend":{"type":"gradient","orient":"none","legendX":5,"legendY":500,"direction":"horizontal","gradientLength":420,"gradientThickness":38,"title":null,"labelFontSize":18,"labelFont":"Liberation Sans","labelColor":"#222","labelOffset":11,"gradientStrokeColor":"#666","gradientStrokeWidth":1}},
"stroke":{"field":"v","type":"quantitative","scale":{"type":"threshold","domain":[-8,-7,-6,-5,-4,-3,-2,-1,0,1,2,3,4,5,6,7,8],"range":["#00006e","#000088","#0000a5","#0000d0","#0000ff","#3030ff","#6464ff","#9c9cff","#d9d9ff","#ffd9d9","#ff9c9c","#ff6464","#ff3030","#ff0000","#d00000","#b80000","#980000","#6e0000"]},"legend":null}
}},
{"data":{"values":[{"t":72,"p":100,"label":"10-5s-1"}]},"mark":{"type":"text","align":"right","baseline":"alphabetic","dy":-13,"fontSize":18,"font":"Liberation Sans","color":"#222"},"encoding":{
"x":{"field":"t","type":"quantitative","scale":{"domain":[0,72],"nice":false,"zero":false},"axis":{"orient":"top","title":null,"values":[0,12,24,36,48,60,72],"labels":false,"tickSize":11,"tickColor":"#444","domain":false,"grid":false}},
"y":{"field":"p","type":"quantitative","scale":{"type":"log","domain":[1000,100],"nice":false},"axis":{"orient":"right","title":"Height (km)","values":[104.4,194.4,356.7,616],"labelExpr":"{'104.4':'16','194.4':'12','356.7':'8','616':'4'}[datum.value]","labelFlush":false,"tickSize":11,"tickColor":"#444","domain":false,"grid":false,"labelFontSize":15,"labelColor":"#222","labelFont":"Liberation Sans","labelPadding":3,"titleAngle":270,"titleFontSize":24,"titleFontWeight":"normal","titleFont":"Liberation Sans","titleColor":"#222","titlePadding":34}},
"text":{"field":"label"}
}},
{"data":{"values":[{"t":4.5,"p":100,"label":"Vorticity"}]},"mark":{"type":"text","align":"left","baseline":"alphabetic","dy":-19,"fontSize":18,"font":"Liberation Sans","color":"#222"},"encoding":{
"x":{"field":"t","type":"quantitative","scale":{"domain":[0,72],"nice":false,"zero":false},"axis":null},
"y":{"field":"p","type":"quantitative","scale":{"type":"log","domain":[1000,100],"nice":false},"axis":null},
"text":{"field":"label"}
}}
]}
